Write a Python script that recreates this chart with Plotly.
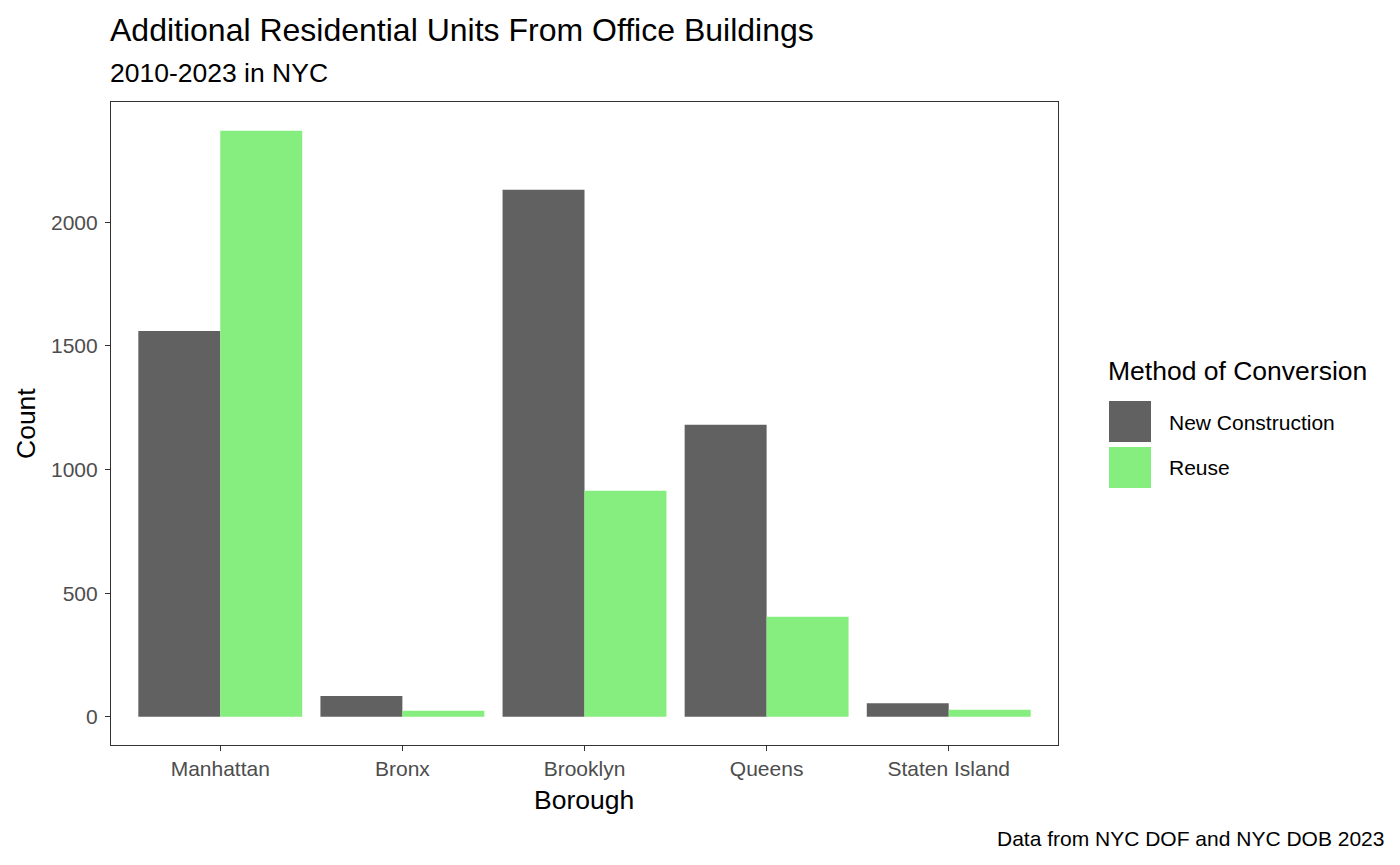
import plotly.graph_objects as go

# %% data

boroughs = ['Manhattan', 'Bronx', 'Brooklyn', 'Queens', 'Staten Island']
new_construction = [1560, 84, 2131, 1181, 55]
reuse = [2370, 25, 914, 405, 29]
methods = ['New Construction', 'Reuse']
colours = ['#616161', '#85ee7e']
y_ticks = [0, 500, 1000, 1500, 2000]

# %% geometry (target pixels on the 1400x865 screenshot)

OFF = 8  # page body margin
W, H = 1400 - OFF, 865 - OFF
left, right, top, bottom = 111, 1058, 102, 745


def px_x(x):
    return (x - left) / (right - left)


def px_y(y):
    return (bottom - y) / (bottom - top)


font = 'Liberation Sans, Arial, sans-serif'

fig = go.Figure()
for name, vals, col in zip(methods, [new_construction, reuse], colours):
    fig.add_trace(go.Bar(x=boroughs, y=vals, name=name, marker_color=col,
                         marker_line_width=0, showlegend=False))

ymax = max(max(new_construction), max(reuse))

fig.update_layout(
    width=W, height=H,
    barmode='group', bargap=0.1, bargroupgap=0,
    plot_bgcolor='white', paper_bgcolor='white',
    margin=dict(l=left - OFF, r=1400 - right, t=top - OFF, b=865 - bottom),
    font=dict(family=font, color='black'),
    title=dict(text='Additional Residential Units From Office Buildings',
               xref='container', yref='container', x=(110 - OFF) / W, xanchor='left',
               y=1 - (30 - OFF) / H, yanchor='middle', font=dict(size=32, color='black')),
)

fig.update_xaxes(
    range=[-0.6, len(boroughs) - 0.4],
    showline=True, mirror=True, linecolor='#333333', linewidth=1.2,
    ticks='outside', ticklen=5, tickwidth=1.2, tickcolor='#333333',
    tickfont=dict(size=21, color='#4d4d4d'),
    showgrid=False, zeroline=False,
)
fig.update_yaxes(
    range=[-ymax * 0.048, ymax * 1.049], tickvals=y_ticks,
    showline=True, mirror=True, linecolor='#333333', linewidth=1.2,
    ticks='outside', ticklen=5, tickwidth=1.2, tickcolor='#333333',
    tickfont=dict(size=21, color='#4d4d4d'), ticklabelstandoff=3,
    showgrid=False, zeroline=False,
)


def add_text(text, x, y, size, xanchor='left', angle=0):
    fig.add_annotation(text=text, xref='paper', yref='paper',
                       x=px_x(x), y=px_y(y), xanchor=xanchor, yanchor='middle',
                       textangle=angle, showarrow=False,
                       font=dict(size=size, color='black'))


# subtitle, axis titles and caption
add_text('2010-2023 in NYC', 108, 73, 26.5)
add_text('Borough', 584, 800, 26.5, xanchor='center')
add_text('Count', 26, 424, 26.5, xanchor='center', angle=-90)
add_text('Data from NYC DOF and NYC DOB 2023', 1386, 838, 21, xanchor='right')

# legend drawn by hand so the keys match the big ggplot squares
add_text('Method of Conversion', 1106, 371, 26.5)
key_tops = [401, 447]
for name, col, ky in zip(methods, colours, key_tops):
    fig.add_shape(type='rect', xref='paper', yref='paper',
                  x0=px_x(1109), x1=px_x(1151), y0=px_y(ky), y1=px_y(ky + 41),
                  fillcolor=col, line_width=0)
    add_text(name, 1167, ky + 21, 21)

fig.write_html('out.html')
